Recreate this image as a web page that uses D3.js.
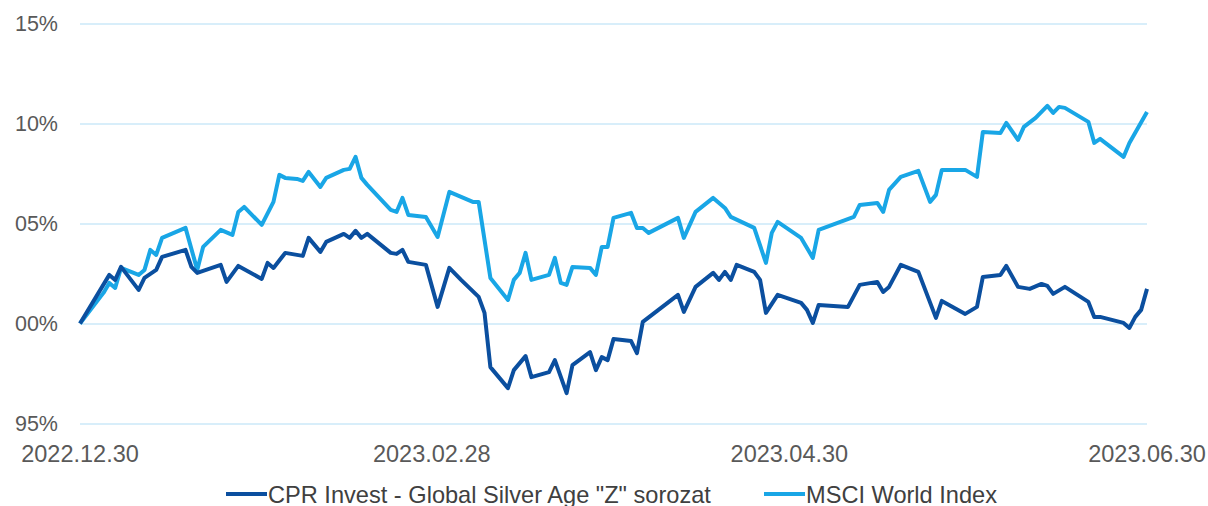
<!DOCTYPE html>
<html>
<head>
<meta charset="utf-8">
<script src="https://cdn.jsdelivr.net/npm/d3@7"></script>
<style>
  html, body { margin: 0; padding: 0; background: #fff; }
  svg { display: block; font-family: "Liberation Sans", Arial, sans-serif; }
</style>
</head>
<body>
<div id="chart"></div>
<script>
// days after 2022.12.30 and cumulative performance (%)
const cprDays = [0, 5, 6, 7, 10, 11, 13, 14, 18, 19, 20, 24, 25, 27, 31, 32, 33, 35, 37, 38, 39, 41, 42, 45, 46, 47, 48, 49,
  53, 54, 55, 56, 59, 61, 63, 65, 68, 69, 70, 73, 74, 76, 77, 80, 81, 83, 84, 87, 88, 89, 90, 91, 94, 95, 96,
  102, 103, 105, 108, 109, 110, 111, 112, 115, 116, 117, 119, 123, 124, 125, 126, 131, 133, 136, 137, 138, 140, 143,
  146, 147, 151, 153, 154, 157, 158, 160, 162, 164, 165, 166, 168, 172, 173, 174, 178, 179, 180, 181, 182];
const cprValues = [0, 2.43, 2.18, 2.83, 1.68, 2.28, 2.68, 3.33, 3.68, 2.83, 2.53, 2.93, 2.08, 2.88, 2.23, 3.03, 2.78, 3.53, 3.43, 3.38, 4.28, 3.58, 4.08, 4.48, 4.28, 4.63, 4.28, 4.48,
  3.53, 3.48, 3.68, 3.08, 2.93, 0.83, 2.78, 2.18, 1.33, 0.53, -2.18, -3.23, -2.33, -1.63, -2.68, -2.43, -1.83, -3.48, -2.08, -1.43, -2.33, -1.68, -1.83, -0.78, -0.88, -1.48, 0.08,
  1.43, 0.58, 1.83, 2.53, 2.18, 2.58, 2.18, 2.93, 2.58, 2.18, 0.53, 1.43, 1.03, 0.68, 0.03, 0.93, 0.83, 1.93, 2.08, 1.58, 1.83, 2.93, 2.58,
  0.28, 1.13, 0.48, 0.83, 2.33, 2.43, 2.88, 1.83, 1.73, 1.98, 1.88, 1.48, 1.83, 1.08, 0.33, 0.33, 0.03, -0.22, 0.33, 0.68, 1.73];

const msciDays = [0, 4, 5, 6, 7, 10, 11, 12, 13, 14, 18, 20, 21, 24, 26, 27, 28, 31, 33, 34, 35, 37, 38, 39, 41, 42, 45, 46, 47, 48, 49,
  53, 54, 55, 56, 59, 61, 63, 65, 67, 68, 70, 73, 74, 75, 76, 77, 80, 81, 82, 83, 84, 87, 88, 89, 90, 91, 94, 95, 96, 97,
  102, 103, 105, 108, 110, 111, 115, 117, 118, 119, 123, 125, 126, 132, 133, 136, 137, 138, 140, 143, 145, 146, 147,
  151, 153, 154, 157, 158, 160, 161, 163, 165, 166, 167, 168, 172, 173, 174, 178, 179, 182];
const msciValues = [0, 1.53, 2.03, 1.78, 2.78, 2.43, 2.68, 3.68, 3.43, 4.28, 4.78, 2.68, 3.83, 4.68, 4.43, 5.58, 5.83, 4.93, 6.08, 7.43, 7.28, 7.23, 7.13, 7.58, 6.83, 7.28, 7.68, 7.73, 8.33, 7.28, 6.93,
  5.68, 5.58, 6.28, 5.43, 5.33, 4.33, 6.58, 6.33, 6.08, 6.08, 2.28, 1.18, 2.18, 2.53, 3.53, 2.18, 2.43, 3.28, 2.03, 1.93, 2.83, 2.78, 2.43, 3.83, 3.83, 5.28, 5.53, 4.78, 4.78, 4.53,
  5.28, 4.28, 5.58, 6.28, 5.78, 5.33, 4.78, 3.03, 4.53, 5.08, 4.28, 3.28, 4.68, 5.33, 5.93, 6.03, 5.58, 6.68, 7.33, 7.63, 6.08, 6.43, 7.68,
  7.68, 7.33, 9.58, 9.53, 10.03, 9.18, 9.83, 10.28, 10.88, 10.53, 10.83, 10.78, 10.08, 9.03, 9.23, 8.33, 9.03, 10.58];

const yTicks = [-5, 0, 5, 10, 15];
const yTickLabels = ['95%', '00%', '05%', '10%', '15%'];
const xTicks = ['2022-12-30', '2023-02-28', '2023-04-30', '2023-06-30'];
const xTickLabels = ['2022.12.30', '2023.02.28', '2023.04.30', '2023.06.30'];
const seriesNames = ['CPR Invest - Global Silver Age "Z" sorozat', 'MSCI World Index'];
const seriesColors = ['#0b4f9f', '#19a6e6'];

const width = 1208;
const height = 506;
const startDate = new Date(2022, 11, 30);
const toDate = (d) => d3.timeDay.offset(startDate, d);
const parseDate = d3.timeParse('%Y-%m-%d');

const svg = d3.select('#chart').append('svg')
  .attr('width', width)
  .attr('height', height);

const xScale = d3.scaleTime()
  .domain([startDate, new Date(2023, 5, 30)])
  .range([80, 1147]);

const yScale = d3.scaleLinear()
  .domain([-5, 15])
  .range([423.5, 23.5]);

// gridlines
svg.append('g')
  .attr('transform', 'translate(80,0)')
  .call(d3.axisLeft(yScale).tickValues(yTicks).tickFormat('').tickSize(-(1147 - 80)))
  .call((g) => g.select('.domain').remove())
  .call((g) => g.selectAll('line').attr('stroke', '#cbe8f9').attr('stroke-width', 1.6));

// y labels
svg.append('g')
  .selectAll('text')
  .data(yTicks)
  .join('text')
  .attr('x', 58)
  .attr('y', (d) => yScale(d))
  .attr('dy', '0.36em')
  .attr('text-anchor', 'end')
  .attr('font-size', 21.5)
  .attr('fill', '#595959')
  .text((d, i) => yTickLabels[i]);

// x labels
svg.append('g')
  .selectAll('text')
  .data(xTicks)
  .join('text')
  .attr('x', (d) => xScale(parseDate(d)))
  .attr('y', 462)
  .attr('text-anchor', 'middle')
  .attr('font-size', 23.5)
  .attr('fill', '#595959')
  .text((d, i) => xTickLabels[i]);

const line = d3.line()
  .x((d) => xScale(d[0]))
  .y((d) => yScale(d[1]));

const cpr = cprDays.map((d, i) => [toDate(d), cprValues[i]]);
const msci = msciDays.map((d, i) => [toDate(d), msciValues[i]]);

svg.append('path')
  .datum(msci)
  .attr('fill', 'none')
  .attr('stroke', seriesColors[1])
  .attr('stroke-width', 4)
  .attr('stroke-linejoin', 'round')
  .attr('d', line);

svg.append('path')
  .datum(cpr)
  .attr('fill', 'none')
  .attr('stroke', seriesColors[0])
  .attr('stroke-width', 4)
  .attr('stroke-linejoin', 'round')
  .attr('d', line);

// legend
const legendX = [226, 764];
const legend = svg.append('g')
  .selectAll('g')
  .data(seriesNames)
  .join('g')
  .attr('transform', (d, i) => `translate(${legendX[i]},494)`);

legend.append('line')
  .attr('x1', 0).attr('x2', 41)
  .attr('stroke', (d, i) => seriesColors[i])
  .attr('stroke-width', 4);

legend.append('text')
  .attr('x', 42)
  .attr('dy', '0.36em')
  .attr('font-size', 23.6)
  .attr('fill', '#404040')
  .text((d) => d);
</script>
</body>
</html>
